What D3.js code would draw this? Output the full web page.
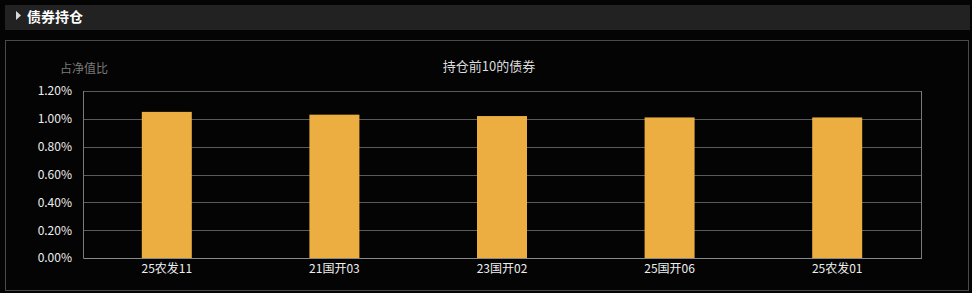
<!DOCTYPE html>
<html>
<head>
<meta charset="utf-8">
<script src="https://cdn.jsdelivr.net/npm/d3@7"></script>
<style>
  html, body { margin: 0; padding: 0; background: #040404; }
  body { width: 972px; height: 293px; overflow: hidden; font-family: "Noto Sans CJK SC", "Noto Sans", sans-serif; }
  svg { display: block; }
</style>
</head>
<body>
<svg></svg>
<script>
const CATEGORIES = ['25农发11', '21国开03', '23国开02', '25国开06', '25农发01'];
const VALUES = [1.05, 1.03, 1.02, 1.01, 1.01];
const Y_TICKS = [0, 0.2, 0.4, 0.6, 0.8, 1.0, 1.2];

const WIDTH = 972;
const HEIGHT = 293;
const PLOT = { left: 83, right: 921, top: 91, bottom: 258 };

const svg = d3.select('svg').attr('width', WIDTH).attr('height', HEIGHT);

// section header
svg.append('rect')
  .attr('x', 5).attr('y', 5).attr('width', 965).attr('height', 25)
  .attr('fill', '#222222');
svg.append('path')
  .attr('d', 'M16,11 L21,15.5 L16,20 Z')
  .attr('fill', '#d8d8d8');
svg.append('text')
  .attr('x', 27).attr('y', 22)
  .attr('fill', '#ffffff')
  .attr('font-size', 14)
  .attr('font-weight', 'bold')
  .text('债券持仓');

// panel border
svg.append('rect')
  .attr('x', 5.5).attr('y', 40.5).attr('width', 963).attr('height', 250)
  .attr('fill', 'none')
  .attr('stroke', '#4a4a4a');

// chart title + axis name
svg.append('text')
  .attr('x', 489).attr('y', 71)
  .attr('text-anchor', 'middle')
  .attr('fill', '#dddddd')
  .attr('font-size', 13)
  .text('持仓前10的债券');
svg.append('text')
  .attr('x', 84).attr('y', 73)
  .attr('text-anchor', 'middle')
  .attr('fill', '#7a7a7a')
  .attr('font-size', 12)
  .text('占净值比');

const x = d3.scaleBand().domain(CATEGORIES).range([PLOT.left, PLOT.right]);
const y = d3.scaleLinear().domain([0, 1.2]).range([PLOT.bottom, PLOT.top]);
const BAR_W = 50;

const chart = svg.append('g');

// grid lines
chart.append('g')
  .attr('transform', `translate(${PLOT.left},0)`)
  .call(d3.axisLeft(y).tickValues(Y_TICKS).tickSize(-(PLOT.right - PLOT.left)).tickFormat(''))
  .call(g => g.select('.domain').remove())
  .call(g => g.selectAll('line').attr('stroke', '#5a5a5a').attr('shape-rendering', 'crispEdges'));

// left/right frame lines
chart.selectAll('.vline')
  .data([PLOT.left, PLOT.right])
  .enter()
  .append('line')
  .attr('x1', d => d + 0.5).attr('x2', d => d + 0.5)
  .attr('y1', PLOT.top).attr('y2', PLOT.bottom)
  .attr('stroke', '#7a7a7a');

// y tick labels
chart.append('g')
  .attr('transform', `translate(${PLOT.left - 8},0)`)
  .call(d3.axisLeft(y).tickValues(Y_TICKS).tickSize(0).tickFormat(d => d.toFixed(2) + '%'))
  .call(g => g.select('.domain').remove())
  .call(g => g.selectAll('text')
    .attr('fill', '#eeeeee')
    .attr('font-size', 12)
    .attr('font-family', '"Noto Sans CJK SC", sans-serif'));

// bars
chart.selectAll('.bar')
  .data(VALUES)
  .enter()
  .append('rect')
  .classed('bar', true)
  .attr('x', (d, i) => x(CATEGORIES[i]) + x.bandwidth() / 2 - BAR_W / 2)
  .attr('y', d => y(d))
  .attr('width', BAR_W)
  .attr('height', d => y(0) - y(d))
  .attr('fill', '#ecae40');

// x axis
chart.append('g')
  .attr('transform', `translate(0,${PLOT.bottom})`)
  .call(d3.axisBottom(x).tickSize(0).tickPadding(6))
  .call(g => g.select('.domain').attr('stroke', '#8a8a8a').attr('shape-rendering', 'crispEdges'))
  .call(g => g.selectAll('text')
    .attr('fill', '#eeeeee')
    .attr('font-size', 12)
    .attr('font-family', '"Noto Sans CJK SC", sans-serif'));
</script>
</body>
</html>
